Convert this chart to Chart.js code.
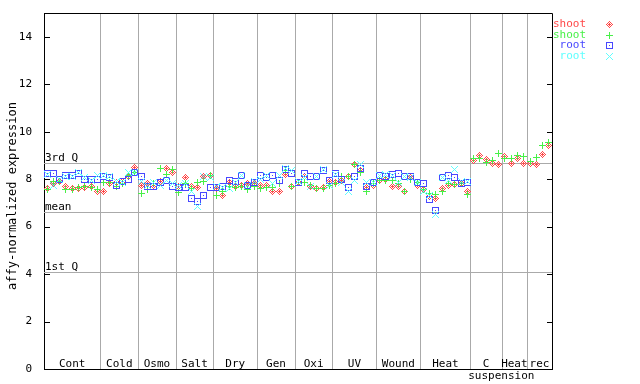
<!DOCTYPE html>
<html><head><meta charset="utf-8">
<script src="https://cdn.jsdelivr.net/npm/chart.js@4/dist/chart.umd.min.js"></script>
<style>html,body{margin:0;padding:0;background:#fff}canvas{display:block}</style>
</head><body><canvas id="c" width="640" height="384"></canvas>
<script>
const groups = ['Cont','Cold','Osmo','Salt','Dry','Gen','Oxi','UV','Wound','Heat','C','Heat','rec'];
const groupSizes = [9,6,6,6,7,6,6,7,7,8,5,4,4];
const subLabel = 'suspension';
const yTicks = [0,2,4,6,8,10,12,14];
const refValues = [8.67, 6.6, 4.08];
const refLabels = ['3rd Q', 'mean', '1st Q'];
const legendLabels = ['shoot','shoot','root','root'];

const shootRep1 = [
  7.6,7.8,7.9,7.7,7.6,7.6,7.65,7.7,7.5,
  7.5,7.8,7.85,7.9,8.1,8.5,
  7.75,7.8,7.75,7.9,8.45,8.3,
  7.7,8.05,7.7,7.65,8.1,8.15,
  7.6,7.3,7.85,7.7,7.75,7.8,7.8,
  7.75,7.75,7.5,7.5,8.2,7.7,
  7.85,8.1,7.7,7.6,7.65,7.9,
  7.85,7.95,8.1,8.6,8.35,7.65,7.75,
  7.95,8.0,7.7,7.7,7.5,8.05,7.75,
  7.58,7.27,7.2,7.62,7.72,7.76,7.8,7.48,
  8.79,8.98,8.83,8.67,8.6,
  8.95,8.65,8.85,8.67,
  8.65,8.6,9.03,9.4];
const shootRep2 = [
  7.55,7.9,7.9,7.55,7.55,7.65,7.7,7.65,7.55,
  7.85,7.85,7.7,7.8,8.15,8.3,
  7.4,7.55,7.8,8.45,8.2,8.4,
  7.45,7.8,7.6,7.85,7.9,8.15,
  7.3,7.5,7.7,7.65,7.7,7.55,7.7,
  7.6,7.65,7.65,7.8,8.35,7.7,
  7.85,7.85,7.75,7.6,7.6,7.75,
  7.8,8.1,8.1,8.6,8.3,7.5,7.8,
  7.95,7.95,7.95,7.8,7.5,8.0,7.85,
  7.55,7.41,7.37,7.48,7.8,7.76,7.83,7.34,
  8.85,8.85,8.72,8.79,9.07,
  8.85,8.85,8.98,8.95,
  8.75,8.9,9.4,9.54];
const rootRep1 = [
  8.25,8.25,8.0,8.15,8.15,8.22,8.0,8.0,8.0,
  8.1,8.05,7.75,7.9,8.0,8.3,
  8.1,7.7,7.7,7.85,7.95,7.7,
  7.65,7.65,7.2,7.05,7.3,7.65,
  7.65,7.7,7.95,7.9,8.15,7.75,7.85,
  8.15,8.05,8.15,7.95,8.4,8.25,
  7.85,8.25,8.1,8.1,8.35,7.95,
  8.25,8.0,7.65,8.1,8.45,7.7,7.85,
  8.15,8.1,8.2,8.25,8.1,8.1,7.85,
  7.8,7.13,6.66,8.07,8.14,8.08,7.83,7.85,
  null,null,null,null,null,null,null,null,null,null,null,null,null];
const rootRep2 = [
  8.2,7.75,8.0,8.1,8.1,8.3,8.05,7.95,8.15,
  8.15,8.1,7.9,7.85,8.3,8.3,
  7.9,7.75,7.85,7.75,7.95,7.8,
  7.75,7.8,7.5,6.85,8.1,8.05,
  7.7,7.65,7.6,7.85,8.15,7.75,7.9,
  8.0,8.15,7.8,8.15,8.45,8.35,
  7.9,8.05,7.7,8.1,8.4,7.75,
  8.2,7.85,7.5,7.95,8.6,7.85,7.85,
  8.15,8.2,8.15,7.85,8.1,8.05,7.85,
  7.48,7.3,6.5,8.05,7.95,8.42,7.9,7.9,
  null,null,null,null,null,null,null,null,null,null,null,null,null];

const colors = ['#ff4848','#48f048','#4848ff','#60ffff'];
const FONT = '"DejaVu Sans Mono", "Liberation Mono", monospace';

function makeMarker(kind, color){
  const c = document.createElement('canvas'); c.width = 7; c.height = 7;
  const g = c.getContext('2d'); g.fillStyle = color;
  for (let py=0; py<7; py++) for (let px=0; px<7; px++){
    const dx = px-3, dy = py-3; let on = false;
    if (kind==='diamond') on = (Math.abs(dx)+Math.abs(dy)<=3) && ((dx+dy)%2!==0 || (dx===0&&dy===0) || Math.abs(dx)+Math.abs(dy)===3);
    if (kind==='plus') on = (dx===0 || dy===0);
    if (kind==='square') on = (Math.abs(dx)===3 || Math.abs(dy)===3) || (dx===0 && dy===0);
    if (kind==='x') on = (Math.abs(dx)===Math.abs(dy)) && Math.abs(dx)<=3;
    if (on) g.fillRect(px,py,1,1);
  }
  return c;
}
const markers = [makeMarker('diamond',colors[0]), makeMarker('plus',colors[1]), makeMarker('square',colors[2]), makeMarker('x',colors[3])];

const nSlots = groupSizes.reduce((a,b)=>a+b,0);
function pts(arr){ return arr.map((v,i)=>({x:i+0.5, y:v})).filter(p=>p.y!==null); }
const series = [shootRep1, shootRep2, rootRep1, rootRep2];
const datasets = series.map((s,k)=>({
  label: legendLabels[k], data: pts(s), pointStyle: markers[k], pointRadius: 3.5,
  showLine:false, borderColor: colors[k], backgroundColor: colors[k], order: 4-k
}));

const deco = {
  id:'deco',
  afterDatasetsUpdate(chart){
    chart.data.datasets.forEach((d,i)=>{
      chart.getDatasetMeta(i).data.forEach(el=>{ el.x = Math.round(el.x-0.5)+0.5; el.y = Math.round(el.y-0.5)+0.5; });
    });
  },
  beforeDatasetsDraw(chart){
    const {ctx, chartArea:a, scales:{x,y}} = chart;
    ctx.save();
    ctx.strokeStyle = '#aaaaaa'; ctx.lineWidth = 1;
    refValues.forEach(v=>{
      const py = Math.round(y.getPixelForValue(v))+0.5;
      ctx.beginPath(); ctx.moveTo(a.left,py); ctx.lineTo(a.right,py); ctx.stroke();
    });
    let c = 0;
    groupSizes.forEach((n,i)=>{
      c += n;
      if (i < groupSizes.length-1){
        const px = Math.round(x.getPixelForValue(c))+0.5;
        ctx.beginPath(); ctx.moveTo(px,a.top); ctx.lineTo(px,a.bottom); ctx.stroke();
      }
    });
    ctx.fillStyle = '#000'; ctx.font = '11px '+FONT; ctx.textAlign = 'left'; ctx.textBaseline = 'alphabetic';
    refValues.forEach((v,i)=>{ ctx.fillText(refLabels[i], a.left+1, Math.round(y.getPixelForValue(v))-2); });
    ctx.restore();
  },
  afterDraw(chart){
    const {ctx, chartArea:a, scales:{x,y}} = chart;
    ctx.save();
    ctx.strokeStyle = '#000'; ctx.lineWidth = 1;
    ctx.beginPath(); ctx.moveTo(a.left, a.top+0.5); ctx.lineTo(a.right+0.5, a.top+0.5); ctx.lineTo(a.right+0.5, a.bottom); ctx.stroke();
    yTicks.forEach(v=>{
      const py = Math.round(y.getPixelForValue(v))+0.5;
      ctx.beginPath(); ctx.moveTo(a.left, py); ctx.lineTo(a.left+6, py); ctx.stroke();
      ctx.beginPath(); ctx.moveTo(a.right-5, py); ctx.lineTo(a.right+0.5, py); ctx.stroke();
    });
    ctx.fillStyle = '#000'; ctx.font = '11px '+FONT; ctx.textAlign = 'center'; ctx.textBaseline = 'middle';
    let c = 0;
    groupSizes.forEach((n,i)=>{
      const cx = (x.getPixelForValue(c) + x.getPixelForValue(c+n))/2;
      ctx.fillText(groups[i], cx, a.bottom-5);
      c += n;
    });
    const sStart = groupSizes.slice(0,10).reduce((p,q)=>p+q,0);
    ctx.fillText(subLabel, x.getPixelForValue(sStart+5)-0.5, a.bottom+7);
    ctx.save();
    ctx.translate(13, 196); ctx.rotate(-Math.PI/2);
    ctx.font = '12px '+FONT; ctx.fillText('affy-normalized expression', 0, 0);
    ctx.restore();
    ctx.textAlign = 'right'; ctx.textBaseline = 'middle'; ctx.font = '11px '+FONT;
    const ly = [24, 34.7, 45.3, 56];
    legendLabels.forEach((t,k)=>{
      ctx.fillStyle = colors[k]; ctx.fillText(t, 586, ly[k]);
      ctx.drawImage(markers[k], 606, Math.round(ly[k])-3);
    });
    ctx.restore();
  }
};

new Chart(document.getElementById('c'), {
  type:'scatter',
  data:{datasets},
  options:{
    responsive:false, animation:false, devicePixelRatio:1,
    layout:{padding:{top:13, right:88, left:0, bottom:0}},
    plugins:{legend:{display:false}, tooltip:{enabled:false}},
    scales:{
      x:{type:'linear', min:0, max:nSlots,
        ticks:{display:false}, grid:{display:false, drawTicks:false},
        border:{display:true, color:'#000', width:1},
        afterFit(s){ s.height = 15; s.paddingLeft = 0; s.paddingRight = 0; s.paddingTop = 0; s.paddingBottom = 0; }},
      y:{min:0, max:15,
        afterBuildTicks(s){ s.ticks = yTicks.map(v=>({value:v})); },
        ticks:{color:'#000', font:{family:FONT, size:11}, padding:12},
        grid:{display:false, drawTicks:false},
        border:{display:true, color:'#000', width:1},
        afterFit(s){ s.width = 44; s.paddingTop = 0; s.paddingBottom = 0; s.paddingLeft = 0; s.paddingRight = 0; }}
    }
  },
  plugins:[deco]
});
</script>
</body></html>
